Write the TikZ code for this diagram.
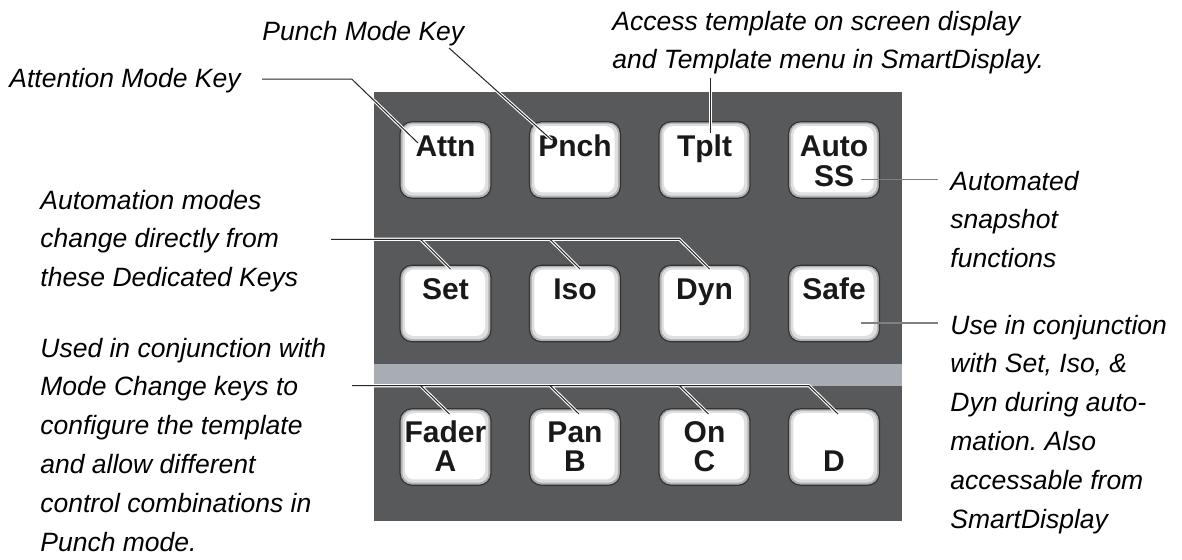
\documentclass[tikz,border=0pt]{standalone}
\usepackage{fontspec}
\setmainfont{Liberation Sans}
\usetikzlibrary{calc}
\frenchspacing
\definecolor{panelgray}{RGB}{88,89,91}
\definecolor{stripgray}{RGB}{167,173,179}
\definecolor{leadgray}{RGB}{128,128,128}
\tikzset{
	keybox/.style={rectangle, rounded corners=6pt, minimum width=45.5pt, minimum height=38.25pt,
		fill=gray!60, draw=black!80, line width=0.6pt,
		path picture={
			\fill[gray!25, rounded corners=5pt] ([shift={(1.3pt,1.3pt)}]path picture bounding box.south west) rectangle ([shift={(-1.3pt,-1.1pt)}]path picture bounding box.north east);
			\fill[white, rounded corners=4.5pt] ([shift={(2.4pt,2.9pt)}]path picture bounding box.south west) rectangle ([shift={(-3pt,-2.2pt)}]path picture bounding box.north east);
		}},
	keylbl/.style={font=\bfseries\fontsize{15}{15}\selectfont, anchor=base, inner sep=0pt, text=black!90},
	% base west of a note = baseline of its last line
	note/.style={font=\itshape\fontsize{13.25}{19.4}\selectfont, align=left, anchor=base west, inner sep=0pt},
	leader/.style={black!85, line width=0.5pt, preaction={draw=white, line width=1.6pt}},
	sideline/.style={leadgray, line width=0.7pt}
}
\begin{document}
\begin{tikzpicture}[x=0.5pt, y=-0.5pt]
	\useasboundingbox (0,0) rectangle (1182,559);
	% draw panel
	\fill[panelgray] (374,92) rectangle (902,521);
	\fill[stripgray] (374,363.5) rectangle (902,385.5);
	% top row
	\node[keybox] (attn) at (445.5,160) {};
	\node[keybox] (pnch) at (575,160) {};
	\node[keybox] (tplt) at (704.5,160) {};
	\node[keybox] (auto) at (834,160) {};
	\node[keylbl] (attnt) at ([yshift=-17.5pt]attn.north) {Attn};
	\node[keylbl] (pncht) at ([yshift=-17.5pt]pnch.north) {Pnch};
	\node[keylbl] (tpltt) at ([yshift=-17.5pt]tplt.north) {Tplt};
	\node[keylbl] (autot) at ([yshift=-17.5pt]auto.north) {Auto};
	\node[keylbl] (autob) at ([yshift=-32.5pt]auto.north) {SS};
	% middle row
	\node[keybox] (set) at (445.5,303.5) {};
	\node[keybox] (iso) at (575,303.5) {};
	\node[keybox] (dyn) at (704.5,303.5) {};
	\node[keybox] (safe) at (834,303.5) {};
	\node[keylbl] (sett) at ([yshift=-17.5pt]set.north) {Set};
	\node[keylbl] (isot) at ([yshift=-17.5pt]iso.north) {Iso};
	\node[keylbl] (dynt) at ([yshift=-17.5pt]dyn.north) {Dyn};
	\node[keylbl] (safet) at ([yshift=-17.5pt]safe.north) {Safe};
	% bottom row
	\node[keybox] (fader) at (445.5,447) {};
	\node[keybox] (pan) at (575,447) {};
	\node[keybox] (on) at (704.5,447) {};
	\node[keybox] (dkey) at (834,447) {};
	\node[keylbl] (fadert) at ([yshift=-17pt]fader.north) {Fader};
	\node[keylbl] (faderb) at ([yshift=-31.5pt]fader.north) {A};
	\node[keylbl] (pant) at ([yshift=-17pt]pan.north) {Pan};
	\node[keylbl] (panb) at ([yshift=-31.5pt]pan.north) {B};
	\node[keylbl] (ont) at ([yshift=-17pt]on.north) {On};
	\node[keylbl] (onb) at ([yshift=-31.5pt]on.north) {C};
	\node[keylbl] (dkeyb) at ([yshift=-31.5pt]dkey.north) {D};
	% notes
	\node[note] (attnlbl) at (9,87) {Attention Mode Key};
	\node[note] (pnchlbl) at (262,40) {Punch Mode Key};
	\node[note] (tpltlbl) at (612,68.8) {Access template on screen display\\and Template menu in SmartDisplay.};
	\node[note] (autolbl) at (950,267.6) {Automated\\snapshot\\functions};
	\node[note] (safelbl) at (950,528) {Use in conjunction\\with Set, Iso, \&\\Dyn during auto-\\mation. Also\\accessable from\\SmartDisplay};
	\node[note] (modelbl) at (40,286.6) {Automation modes\\change directly from\\these Dedicated Keys};
	\node[note] (mixlbl) at (40,551) {Used in conjunction with\\Mode Change keys to\\configure the template\\and allow different\\control combinations in\\Punch mode.};
	% leaders
	\coordinate (attnstart) at (262,79);
	\coordinate (attnbend) at (351.7,79);
	\coordinate (pnchstart) at (449,48);
	\coordinate (tpltstart) at (710.5,78);
	\coordinate (modestart) at (331,239.3);
	\coordinate (mixstart) at (352,385.7);
	\coordinate (autoend) at (938,179.3);
	\coordinate (safeend) at (938,323);
	\draw[leader] (attnstart) -- (attnbend) -- ($(attn)+(-27.5,-17)$);
	\draw[leader] (pnchstart) -- ($(pnch)+(-23.3,-20)$);
	\draw[leader] (tpltstart) -- ($(tplt)+(6,-27)$);
	\draw[leader] (modestart) -- ($(dyn)+(-25,-64.2)$) -- ($(dyn)+(5,-34.5)$)
		($(set)+(-25,-64.2)$) -- ($(set)+(5,-34.5)$)
		($(iso)+(-25,-64.2)$) -- ($(iso)+(5,-34.5)$);
	\draw[leader] (mixstart) -- ($(dkey)+(-25,-61.3)$) -- ($(dkey)+(4,-33)$)
		($(fader)+(-25,-61.3)$) -- ($(fader)+(4,-33)$)
		($(pan)+(-25,-61.3)$) -- ($(pan)+(4,-33)$)
		($(on)+(-25,-61.3)$) -- ($(on)+(4,-33)$);
	\draw[sideline] ($(auto)+(27,19.3)$) -- (autoend);
	\draw[sideline] ($(safe)+(27,19.5)$) -- (safeend);
\end{tikzpicture}
\end{document}
